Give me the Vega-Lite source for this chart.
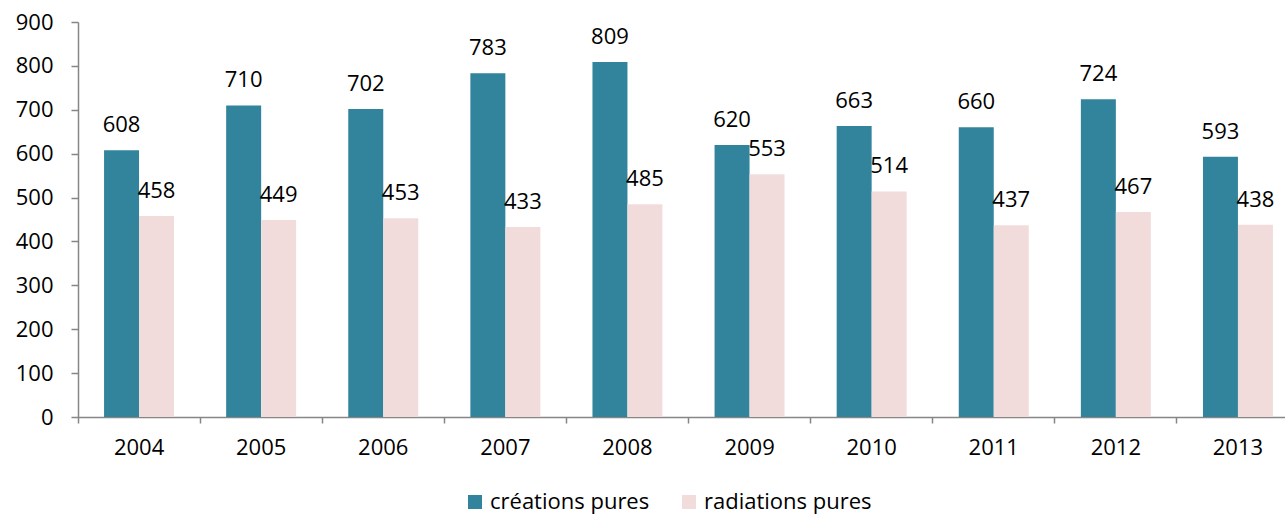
{
  "$schema": "https://vega.github.io/schema/vega-lite/v6.json",
  "width": 1221,
  "height": 395,
  "autosize": {"type": "none"},
  "padding": {"left": 78, "top": 22, "right": 0, "bottom": 97},
  "background": "white",
  "config": {
    "view": {"stroke": null},
    "font": "Open Sans",
    "axis": {"grid": false, "domainColor": "#868686", "tickColor": "#868686", "labelColor": "#000000", "labelFont": "Open Sans", "labelFontSize": 22, "title": null}
  },
  "data": {
    "values": [
      {"year": "2004", "serie": "créations pures", "value": 608},
      {"year": "2004", "serie": "radiations pures", "value": 458},
      {"year": "2005", "serie": "créations pures", "value": 710},
      {"year": "2005", "serie": "radiations pures", "value": 449},
      {"year": "2006", "serie": "créations pures", "value": 702},
      {"year": "2006", "serie": "radiations pures", "value": 453},
      {"year": "2007", "serie": "créations pures", "value": 783},
      {"year": "2007", "serie": "radiations pures", "value": 433},
      {"year": "2008", "serie": "créations pures", "value": 809},
      {"year": "2008", "serie": "radiations pures", "value": 485},
      {"year": "2009", "serie": "créations pures", "value": 620},
      {"year": "2009", "serie": "radiations pures", "value": 553},
      {"year": "2010", "serie": "créations pures", "value": 663},
      {"year": "2010", "serie": "radiations pures", "value": 514},
      {"year": "2011", "serie": "créations pures", "value": 660},
      {"year": "2011", "serie": "radiations pures", "value": 437},
      {"year": "2012", "serie": "créations pures", "value": 724},
      {"year": "2012", "serie": "radiations pures", "value": 467},
      {"year": "2013", "serie": "créations pures", "value": 593},
      {"year": "2013", "serie": "radiations pures", "value": 438}
    ]
  },
  "encoding": {
    "x": {
      "field": "year", "type": "nominal",
      "scale": {"paddingInner": 0, "paddingOuter": 0},
      "axis": {"labelAngle": 0, "bandPosition": 0, "tickSize": 6, "labelPadding": 24, "labelBaseline": "middle", "labelAlign": "center", "domainWidth": 1.5, "tickWidth": 1.5}
    },
    "xOffset": {"field": "serie", "type": "nominal", "scale": {"paddingInner": 0, "paddingOuter": 0.745}},
    "y": {
      "field": "value", "type": "quantitative",
      "scale": {"domain": [0, 900], "nice": false},
      "axis": {"values": [0, 100, 200, 300, 400, 500, 600, 700, 800, 900], "tickSize": 7, "labelPadding": 18, "domainWidth": 1.5, "tickWidth": 1.5}
    }
  },
  "layer": [
    {
      "mark": {"type": "bar"},
      "encoding": {
        "color": {
          "field": "serie", "type": "nominal",
          "scale": {"domain": ["créations pures", "radiations pures"], "range": ["#31849B", "#F2DCDB"]},
          "legend": {
            "orient": "none", "legendX": 386, "legendY": 469, "direction": "horizontal", "columns": 2,
            "title": null, "symbolType": "square", "symbolSize": 196, "symbolStrokeWidth": 0,
            "labelFontSize": 22, "labelFont": "Open Sans", "labelColor": "#000000", "labelLimit": 400,
            "labelOffset": 4, "columnPadding": 28
          }
        }
      }
    },
    {
      "mark": {"type": "text", "baseline": "alphabetic", "dy": -18, "fontSize": 22, "font": "Open Sans", "color": "#000000"},
      "encoding": {"text": {"field": "value", "type": "quantitative"}}
    }
  ]
}
